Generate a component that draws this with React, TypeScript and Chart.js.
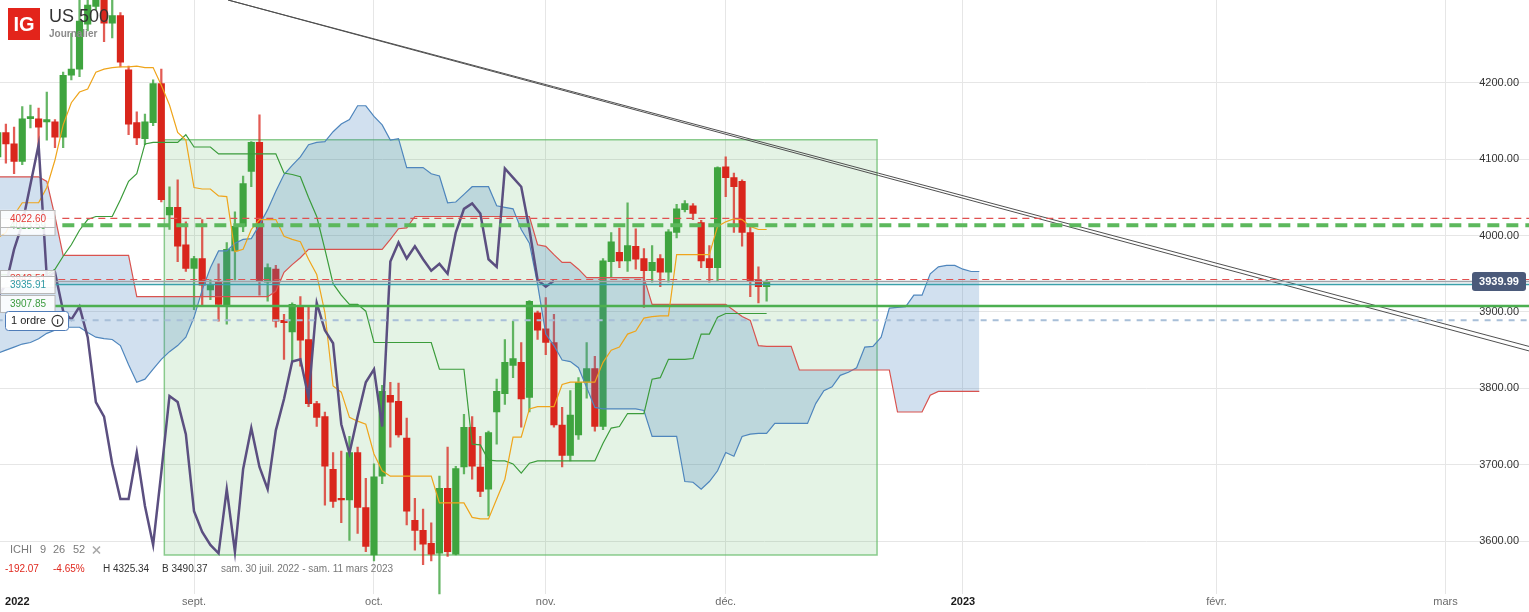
import React, { useEffect, useRef } from "react";
import { Chart, registerables } from "chart.js";

Chart.register(...registerables);

// ---------- data (bar index 0 = 1 Sept 2022; future bars = calendar days) ----------
const FIRST_BAR = -24;

const OPEN = [
  4103, 4135, 4120, 4097, 4153, 4153, 4149, 4149, 4129, 4210,
  4218, 4277, 4300, 4312, 4278, 4288, 4217, 4148, 4127, 4148,
  4199, 4027, 4037, 3988, 3957, 3970, 3929, 3939, 3908, 3980,
  4012, 4084, 4122, 3939, 3956, 3889, 3874, 3907, 3864, 3780,
  3763, 3694, 3656, 3654, 3716, 3644, 3582, 3685, 3791, 3783,
  3735, 3627, 3614, 3597, 3584, 3669, 3583, 3697, 3749, 3697,
  3668, 3769, 3793, 3830, 3834, 3788, 3899, 3878, 3860, 3752,
  3712, 3739, 3808, 3826, 3750, 3966, 3978, 3967, 3986, 3970,
  3954, 3970, 3952, 4004, 4034, 4039, 4017, 3970, 3958, 4090,
  4076, 4071, 4004, 3942, 3933,
];
const HIGH = [
  4145, 4146, 4142, 4169, 4171, 4167, 4188, 4152, 4214, 4265,
  4308, 4309, 4325, 4320, 4309, 4292, 4222, 4162, 4159, 4204,
  4218, 4064, 4073, 4018, 3973, 4021, 3942, 3963, 3991, 4031,
  4078, 4123, 4158, 3963, 3961, 3897, 3912, 3920, 3907, 3783,
  3769, 3716, 3718, 3737, 3723, 3682, 3701, 3804, 3808, 3807,
  3761, 3656, 3642, 3624, 3685, 3723, 3698, 3766, 3763, 3737,
  3744, 3812, 3864, 3888, 3860, 3915, 3901, 3919, 3897, 3775,
  3797, 3814, 3860, 3842, 3970, 4004, 4010, 4043, 4009, 3983,
  3987, 3975, 4008, 4041, 4046, 4042, 4020, 3987, 4090, 4103,
  4082, 4073, 4012, 3959, 3942,
];
const LOW = [
  4095, 4095, 4081, 4093, 4141, 4116, 4125, 4115, 4115, 4204,
  4208, 4268, 4296, 4254, 4259, 4221, 4132, 4119, 4119, 4144,
  4044, 4008, 3966, 3953, 3903, 3907, 3916, 3888, 3884, 3942,
  4005, 4064, 3922, 3914, 3880, 3838, 3835, 3829, 3776, 3750,
  3647, 3644, 3624, 3601, 3610, 3586, 3574, 3675, 3723, 3736,
  3621, 3588, 3569, 3574, 3491, 3580, 3582, 3688, 3681, 3658,
  3633, 3727, 3779, 3814, 3749, 3769, 3864, 3844, 3749, 3697,
  3705, 3733, 3787, 3744, 3746, 3945, 3958, 3953, 3956, 3906,
  3939, 3933, 3939, 3997, 4031, 4021, 3958, 3939, 3940, 4051,
  4004, 3986, 3920, 3912, 3914,
];
const CLOSE = [
  4135, 4120, 4097, 4153, 4156, 4142, 4152, 4129, 4210, 4218,
  4281, 4302, 4312, 4278, 4288, 4227, 4146, 4128, 4149, 4199,
  4047, 4037, 3986, 3957, 3970, 3935, 3935, 3910, 3982, 4012,
  4068, 4122, 3940, 3958, 3888, 3886, 3910, 3863, 3780, 3762,
  3698, 3652, 3654, 3716, 3644, 3593, 3684, 3796, 3782, 3739,
  3639, 3614, 3596, 3583, 3669, 3586, 3695, 3749, 3698, 3665,
  3742, 3796, 3834, 3839, 3786, 3914, 3876, 3860, 3752, 3712,
  3765, 3808, 3826, 3750, 3967, 3992, 3967, 3987, 3969, 3954,
  3965, 3952, 4005, 4035, 4042, 4029, 3967, 3958, 4089, 4076,
  4064, 4004, 3941, 3933, 3939.99,
];

// Ichimoku (9, 26, 52)
const TENKAN = [
  3997, 4004, 4027, 4043, 4043, 4043, 4063, 4099, 4145, 4174,
  4188, 4192, 4214, 4218, 4220, 4221, 4221, 4222, 4220, 4220,
  4197, 4171, 4135, 4125, 4063, 4061, 4061, 4052, 4051, 3979,
  3982, 4008, 4021, 4021, 4021, 3999, 3995, 3992, 3969, 3949,
  3899, 3803, 3795, 3762, 3757, 3753, 3714, 3692, 3685, 3685,
  3685, 3685, 3685, 3685, 3650, 3650, 3650, 3650, 3631, 3629,
  3629, 3655, 3681, 3736, 3736, 3773, 3776, 3776, 3776, 3805,
  3808, 3808, 3808, 3808, 3834, 3850, 3854, 3871, 3875, 3892,
  3894, 3895, 3895, 3975, 3975, 3975, 3975, 3975, 4012, 4018,
  4022, 4021, 4012, 4008, 4008,
];
const KIJUN = [
  3949, 3949, 3949, 3949, 3949, 3949, 3949, 3956, 3973, 3988,
  4007, 4021, 4025, 4025, 4025, 4047, 4071, 4081, 4120, 4122,
  4122, 4122, 4122, 4132, 4116, 4116, 4116, 4107, 4107, 4107,
  4107, 4107, 4107, 4107, 4107, 4082, 4080, 4077, 4050, 4025,
  3982, 3937, 3922, 3910, 3910, 3901, 3860, 3860, 3860, 3860,
  3860, 3860, 3860, 3860, 3825, 3825, 3825, 3825, 3727, 3726,
  3706, 3705, 3705, 3701, 3689, 3702, 3705, 3705, 3705, 3705,
  3705, 3705, 3705, 3705, 3728, 3748, 3750, 3767, 3767, 3767,
  3812, 3814, 3838, 3838, 3838, 3839, 3871, 3871, 3893, 3898,
  3898, 3898, 3898, 3898, 3898,
];
const SPAN_A = [
  3846, 3850, 3854, 3858, 3860, 3865, 3872, 3876, 3880, 3880,
  3880, 3873, 3867, 3865, 3864, 3856, 3831, 3808, 3812, 3825,
  3838, 3848, 3856, 3867, 3893, 3929, 3958, 3980, 3980, 3990,
  3995, 3996, 4014, 4034, 4058, 4080, 4092, 4103, 4119, 4122,
  4123, 4136, 4146, 4152, 4170, 4170, 4156, 4145, 4125, 4127,
  4089, 4089, 4089, 4081, 4078, 4043, 4044, 4054, 4064, 4064,
  4064, 4039, 4037, 4035, 4008, 3990, 3936, 3871, 3856, 3837,
  3835, 3827, 3801, 3775, 3773, 3773, 3773, 3773, 3773, 3771,
  3737, 3737, 3737, 3737, 3678, 3677, 3668, 3678, 3692, 3716,
  3711, 3737, 3740, 3741, 3741, 3754, 3754, 3754, 3754, 3754,
  3780, 3797, 3802, 3817, 3821, 3827, 3854, 3855, 3867, 3905,
  3906, 3907, 3922, 3922, 3950, 3959, 3961, 3961, 3956, 3953,
  3953,
];
const SPAN_B = [
  4077, 4077, 4077, 4077, 4077, 4077, 4071, 4025, 3974, 3974,
  3974, 3974, 3974, 3974, 3974, 3974, 3974, 3920, 3920, 3920,
  3920, 3920, 3920, 3920, 3920, 3920, 3920, 3920, 3920, 3920,
  3920, 3920, 3920, 3920, 3927, 3952, 3962, 3971, 3982, 3982,
  3982, 3982, 3982, 3982, 3982, 3982, 3982, 3982, 3995, 4009,
  4010, 4025, 4025, 4025, 4025, 4025, 4025, 4025, 4025, 4025,
  4025, 4025, 4025, 4025, 4025, 4025, 3988, 3986, 3975, 3965,
  3965, 3956, 3945, 3945, 3945, 3945, 3945, 3945, 3945, 3945,
  3910, 3910, 3910, 3910, 3910, 3910, 3910, 3910, 3910, 3910,
  3902, 3894, 3889, 3856, 3855, 3855, 3855, 3855, 3824, 3824,
  3824, 3824, 3824, 3824, 3824, 3824, 3824, 3824, 3824, 3824,
  3769, 3769, 3769, 3769, 3791, 3796, 3796, 3796, 3796, 3796,
  3796,
];
const CHIKOU = [
  3920, 3936, 3982, 4015, 4067, 4119, 3945, 3952, 3901, 3890,
  3907, 3867, 3782, 3763, 3701, 3655, 3655, 3716, 3646, 3595,
  3690, 3790, 3782, 3740, 3639, 3612, 3595, 3584, 3668, 3586,
  3694, 3748, 3697, 3668, 3745, 3786, 3835, 3838, 3788, 3912,
  3876, 3859, 3753, 3715, 3763, 3808, 3825, 3750, 3966, 3991,
  3970, 3986, 3969, 3954, 3963, 3950, 4004, 4035, 4042, 4029,
  3969, 3959, 4088, 4076, 4064, 4008, 3942, 3933, 3941,
];

// axis ticks
const MONTH_TICKS = [-21.6, 0, 22, 43, 65, 94, 125, 153];
const MONTH_LABELS = ["2022", "sept.", "oct.", "nov.", "déc.", "2023", "févr.", "mars"];
const PRICE_TICKS = [3600, 3700, 3800, 3900, 4000, 4100, 4200];

// horizontal levels drawn on the chart
const LEVEL_VALUES = [4022.6, 4013.59, 3942.51, 3939.99, 3935.91, 3907.85, 3889.0];
const LEVEL_FROM = [-16.1, -16.1, -16.6, -30, -30, -17, -30];

// trend lines (two near-parallel lines)
const TREND_X = [4.16, 163.2];
const TREND_UPPER = [4308.5, 3854.9];
const TREND_LOWER = [4308.5, 3849.0];

// highlighted range box
const BOX_X = [-3.63, 83.5];
const BOX_Y = [3581.7, 4125.5];

const CURRENT_PRICE = 3939.99;
const ORDER_LEVEL = 3889.0;
const STAT_CHANGE = "-192.07";
const STAT_PCT = "-4.65%";
const STAT_HIGH = "H 4325.34";
const STAT_LOW = "B 3490.37";
const STAT_RANGE = "sam. 30 juil. 2022 - sam. 11 mars 2023";

const X_MIN = -23.72;
const X_MAX = 163.2;
const Y_MIN = 3530.3;
const Y_MAX = 4308.5;

// ---------- styling ----------
const FONT = "Arial, 'Liberation Sans', sans-serif";
const UP = "#3fa43f";
const DOWN = "#d9261c";

const pts = (arr: number[], start: number) => arr.map((v, i) => ({ x: start + i, y: v }));
const isYear = (i: number) => /^\d{4}$/.test(MONTH_LABELS[i] || "");

function rr(ctx: CanvasRenderingContext2D, x: number, y: number, w: number, h: number, r: number) {
  ctx.beginPath();
  ctx.moveTo(x + r, y);
  ctx.lineTo(x + w - r, y);
  ctx.arcTo(x + w, y, x + w, y + r, r);
  ctx.lineTo(x + w, y + h - r);
  ctx.arcTo(x + w, y + h, x + w - r, y + h, r);
  ctx.lineTo(x + r, y + h);
  ctx.arcTo(x, y + h, x, y + h - r, r);
  ctx.lineTo(x, y + r);
  ctx.arcTo(x, y, x + r, y, r);
  ctx.closePath();
}

const overlayPlugin = {
  id: "overlay",
  afterDraw(chart: any) {
    const ctx: CanvasRenderingContext2D = chart.ctx;
    const ys = chart.scales.y;
    const text = (s: string, x: number, y: number, font: string, color: string, align: CanvasTextAlign = "left") => {
      ctx.font = font;
      ctx.fillStyle = color;
      ctx.textAlign = align;
      ctx.textBaseline = "middle";
      ctx.fillText(s, x, y);
    };
    ctx.save();

    // left level labels
    const labels: [number, string, number][] = [
      [1, "#4caf50", 1],
      [0, "#e53935", 0],
      [2, "#e53935", -1],
      [4, "#2e9aa5", 0],
      [5, "#3d9c40", -2.5],
    ];
    for (const [li, color, dy] of labels) {
      const cy = ys.getPixelForValue(LEVEL_VALUES[li]) + dy;
      ctx.fillStyle = "rgba(255,255,255,0.88)";
      ctx.fillRect(0, cy - 8.5, 55, 17);
      ctx.strokeStyle = "#b8b8b8";
      ctx.lineWidth = 1;
      ctx.strokeRect(0.5, Math.round(cy - 8.5) + 0.5, 54.5, 17);
      text(LEVEL_VALUES[li].toFixed(2), 28, cy + 0.5, `10px ${FONT}`, color, "center");
    }

    // order box
    const oy = ys.getPixelForValue(ORDER_LEVEL);
    rr(ctx, 5.5, Math.round(oy - 9.5) + 0.5, 63, 19, 3);
    ctx.fillStyle = "#ffffff";
    ctx.fill();
    ctx.strokeStyle = "#4f7cb8";
    ctx.lineWidth = 1;
    ctx.stroke();
    text("1 ordre", 11, oy + 0.5, `11px ${FONT}`, "#222222");
    ctx.beginPath();
    ctx.arc(57.5, oy + 0.5, 5.5, 0, Math.PI * 2);
    ctx.strokeStyle = "#333333";
    ctx.lineWidth = 1.1;
    ctx.stroke();
    text("i", 57.5, oy + 1, `bold 8px ${FONT}`, "#333333", "center");

    // current price tag
    const py = ys.getPixelForValue(CURRENT_PRICE);
    rr(ctx, 1472, py - 9.5, 54, 19, 3);
    ctx.fillStyle = "#4b5a7a";
    ctx.fill();
    text(CURRENT_PRICE.toFixed(2), 1499, py + 0.5, `bold 11px ${FONT}`, "#ffffff", "center");

    // header
    ctx.fillStyle = "#e3241b";
    ctx.fillRect(8, 8, 32, 32);
    text("IG", 24, 25, `bold 20px ${FONT}`, "#ffffff", "center");
    text("US 500", 49, 17, `18px ${FONT}`, "#333333");
    text("Journalier", 49, 34.5, `bold 10px ${FONT}`, "#8a8a8a");

    // indicator legend
    const g = "#7a7a7a";
    text("ICHI", 10, 550, `11px ${FONT}`, g);
    text("9", 40, 550, `11px ${FONT}`, g);
    text("26", 53, 550, `11px ${FONT}`, g);
    text("52", 73, 550, `11px ${FONT}`, g);
    ctx.strokeStyle = "#a8a8a8";
    ctx.lineWidth = 1.6;
    ctx.beginPath();
    ctx.moveTo(93, 546.5);
    ctx.lineTo(100, 553.5);
    ctx.moveTo(100, 546.5);
    ctx.lineTo(93, 553.5);
    ctx.stroke();

    text(STAT_CHANGE, 5, 569, `10px ${FONT}`, "#e0281e");
    text(STAT_PCT, 53, 569, `10px ${FONT}`, "#e0281e");
    text(STAT_HIGH, 103, 569, `10px ${FONT}`, "#333333");
    text(STAT_LOW, 162, 569, `10px ${FONT}`, "#333333");
    text(STAT_RANGE, 221, 569, `10px ${FONT}`, "#777777");

    ctx.restore();
  },
};

function buildConfig() {
  const up = (i: number) => CLOSE[i] >= OPEN[i];
  const line = (data: any[], color: string, width: number, order: number, extra: any = {}) => ({
    type: "line",
    data,
    borderColor: color,
    borderWidth: width,
    pointRadius: 0,
    fill: false,
    tension: 0,
    order,
    ...extra,
  });

  const datasets: any[] = [];

  // range box fill + border
  datasets.push(
    line(
      [{ x: BOX_X[0], y: BOX_Y[1] }, { x: BOX_X[1], y: BOX_Y[1] }],
      "rgba(0,0,0,0)",
      0,
      11,
      { fill: { value: BOX_Y[0] }, backgroundColor: "rgba(76,175,80,0.15)" }
    )
  );
  datasets.push(
    line(
      [
        { x: BOX_X[0], y: BOX_Y[1] },
        { x: BOX_X[1], y: BOX_Y[1] },
        { x: BOX_X[1], y: BOX_Y[0] },
        { x: BOX_X[0], y: BOX_Y[0] },
        { x: BOX_X[0], y: BOX_Y[1] },
      ],
      "rgba(102,187,106,0.75)",
      1.5,
      10
    )
  );

  // candles
  datasets.push({
    type: "bar",
    order: 9,
    grouped: false,
    barThickness: 1.6,
    data: HIGH.map((h, i) => ({ x: FIRST_BAR + i, y: [LOW[i], h] })),
    backgroundColor: HIGH.map((_, i) => (up(i) ? "rgba(63,164,63,0.8)" : "rgba(217,38,28,0.75)")),
    borderWidth: 0,
  });
  datasets.push({
    type: "bar",
    order: 8,
    grouped: false,
    barThickness: 6.5,
    minBarLength: 1,
    data: OPEN.map((o, i) => ({ x: FIRST_BAR + i, y: [o, CLOSE[i]] })),
    backgroundColor: OPEN.map((_, i) => (up(i) ? UP : DOWN)),
    borderWidth: 0,
  });

  // cloud
  const cloud = "rgba(70,130,190,0.25)";
  const spanBIndex = datasets.length + 1;
  datasets.push(
    line(pts(SPAN_A, FIRST_BAR), "#4f86bd", 1.2, 7, {
      fill: { target: spanBIndex, above: cloud, below: cloud },
      backgroundColor: cloud,
    })
  );
  datasets.push(line(pts(SPAN_B, FIRST_BAR), "#d9534f", 1.2, 6));

  // tenkan / kijun / chikou
  datasets.push(line(pts(TENKAN, FIRST_BAR), "#efa51c", 1.2, 5));
  datasets.push(line(pts(KIJUN, FIRST_BAR), "#3b9c3b", 1.2, 5));
  datasets.push(line(pts(CHIKOU, FIRST_BAR), "#5b4f80", 2.5, 4));

  // trend lines
  datasets.push(line(TREND_X.map((x, i) => ({ x, y: TREND_UPPER[i] })), "#505050", 1, 3));
  datasets.push(line(TREND_X.map((x, i) => ({ x, y: TREND_LOWER[i] })), "#505050", 1, 3));

  // levels
  const levelStyles: [string, number, number[]][] = [
    ["#e05050", 1.2, [7, 5]],
    ["#5cb85c", 4, [12, 7]],
    ["#e05050", 1.2, [7, 5]],
    ["#9ea3aa", 1.5, []],
    ["#3aa0aa", 1.5, []],
    ["#4caf50", 2.5, []],
    ["#a8bfd8", 2, [6, 6]],
  ];
  const levelOrder = [2, 2, 1, 1, 1, 1, 2];
  LEVEL_VALUES.forEach((v, i) => {
    const [c, w, d] = levelStyles[i];
    datasets.push(
      line([{ x: LEVEL_FROM[i], y: v }, { x: X_MAX + 10, y: v }], c, w, levelOrder[i], { borderDash: d })
    );
  });

  return {
    type: "bar",
    data: { datasets },
    plugins: [overlayPlugin],
    options: {
      responsive: true,
      maintainAspectRatio: false,
      animation: false,
      events: [],
      layout: { padding: { left: 0, right: 0, top: 0, bottom: 2.5 }, autoPadding: false },
      plugins: {
        legend: { display: false },
        tooltip: { enabled: false },
        title: { display: false },
      },
      scales: {
        x: {
          type: "linear",
          position: "bottom",
          min: X_MIN,
          max: X_MAX,
          offset: false,
          afterBuildTicks: (s: any) => {
            s.ticks = MONTH_TICKS.map((v) => ({ value: v }));
          },
          ticks: {
            autoSkip: false,
            maxRotation: 0,
            minRotation: 0,
            padding: 1,
            callback: (_v: any, i: number) => MONTH_LABELS[i],
            color: (c: any) => (isYear(c.index) ? "#1a1a1a" : "#6b6b6b"),
            font: (c: any) => ({ family: FONT, size: 11, weight: isYear(c.index) ? "bold" : "normal" }),
          },
          grid: {
            color: (c: any) => (c.index === 0 ? "rgba(0,0,0,0)" : "#e6e6e6"),
            lineWidth: 1,
            drawTicks: false,
            offset: false,
          },
          border: { display: false },
        },
        y: {
          type: "linear",
          position: "right",
          min: Y_MIN,
          max: Y_MAX,
          afterBuildTicks: (s: any) => {
            s.ticks = PRICE_TICKS.map((v) => ({ value: v }));
          },
          afterFit: (s: any) => {
            s.width = 0;
          },
          ticks: {
            mirror: true,
            padding: -10,
            color: "#333333",
            font: { family: FONT, size: 11 },
            callback: (v: any) => Number(v).toFixed(2),
          },
          grid: { color: "#e6e6e6", drawTicks: false },
          border: { display: false },
        },
      },
    },
  };
}

export default function App() {
  const canvasRef = useRef<HTMLCanvasElement | null>(null);
  useEffect(() => {
    Chart.defaults.font.family = FONT;
    const chart = new Chart(canvasRef.current as HTMLCanvasElement, buildConfig() as any);
    return () => chart.destroy();
  }, []);
  return (
    <div style={{ position: "fixed", left: 0, top: 0, width: 1529, height: 612, background: "#ffffff" }}>
      <canvas ref={canvasRef} />
    </div>
  );
}
